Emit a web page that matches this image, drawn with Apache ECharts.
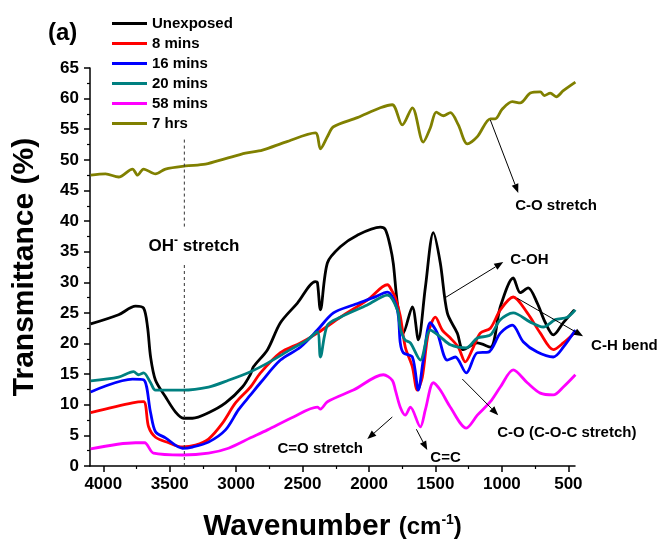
<!DOCTYPE html>
<html>
<head>
<meta charset="utf-8">
<script src="https://cdn.jsdelivr.net/npm/echarts@6/dist/echarts.min.js"></script>
<style>
html, body { margin: 0; padding: 0; background: #fff; }
#chart { width: 661px; height: 540px; }
</style>
</head>
<body>
<div id="chart"></div>
<script>
// FTIR spectra, [wavenumber (cm-1), transmittance (%)]
const unexposed = [[4095,23.2],[3885,24.7],[3757,26.1],[3697,25.8],[3667,22.7],[3644,17.8],[3607,14.0],[3532,11.3],[3456,8.8],[3396,7.8],[3329,7.8],[3208,8.7],[3080,10.3],[2953,12.9],[2892,15.0],[2870,16.2],[2764,19.0],[2667,23.4],[2539,26.6],[2404,30.1],[2389,30.0],[2366,25.5],[2313,33.2],[2216,35.8],[2088,37.7],[1915,39.0],[1877,38.6],[1840,35.8],[1817,33.0],[1787,26.6],[1742,21.7],[1674,26.0],[1629,20.6],[1576,29.2],[1516,38.1],[1464,33.2],[1411,25.0],[1336,21.7],[1291,19.0],[1185,20.1],[1087,19.4],[1012,26.0],[915,30.7],[862,28.3],[802,29.1],[734,26.6],[673,23.4],[613,21.4],[538,23.4],[455,25.5]]
const mins8 = [[4095,8.7],[3780,10.3],[3697,10.5],[3659,6.4],[3607,4.7],[3509,3.8],[3404,3.1],[3306,3.4],[3208,4.4],[3103,7.0],[3005,10.3],[2892,12.9],[2817,15.2],[2667,18.5],[2517,20.1],[2389,21.7],[2216,24.3],[2013,27.1],[1862,29.6],[1825,28.5],[1802,27.5],[1765,24.5],[1727,19.4],[1674,16.2],[1637,12.4],[1599,14.5],[1554,21.7],[1501,24.3],[1449,22.2],[1388,20.9],[1328,19.4],[1275,17.0],[1223,19.0],[1163,21.7],[1087,22.5],[1012,25.5],[915,27.6],[809,25.0],[711,21.7],[613,19.0],[538,20.1],[447,21.9]]
const mins16 = [[4095,12.1],[3780,14.2],[3697,14.1],[3644,8.7],[3607,5.6],[3532,4.6],[3404,2.9],[3329,3.1],[3208,3.9],[3080,5.9],[2982,9.2],[2892,11.6],[2817,13.6],[2667,17.3],[2517,19.4],[2389,22.2],[2268,25.0],[2118,26.3],[1968,27.5],[1862,28.4],[1787,25.5],[1765,20.1],[1742,18.5],[1674,17.8],[1629,12.4],[1592,17.3],[1539,23.4],[1486,21.7],[1411,17.3],[1351,17.8],[1268,15.2],[1185,18.5],[1102,18.6],[1012,21.7],[922,23.0],[840,20.3],[734,18.6],[613,17.8],[538,19.4],[447,22.2]]
const mins20 = [[4095,13.9],[3885,14.5],[3772,15.4],[3735,14.9],[3697,15.2],[3644,13.6],[3607,12.4],[3404,12.4],[3208,12.9],[3058,14.0],[2892,15.4],[2764,16.8],[2592,19.0],[2464,20.6],[2389,21.9],[2366,17.8],[2313,23.0],[2216,24.3],[2013,26.3],[1862,27.9],[1787,25.5],[1765,22.5],[1730,20.6],[1689,20.1],[1614,17.3],[1539,22.2],[1464,21.1],[1388,19.8],[1268,19.3],[1185,20.9],[1087,21.4],[1012,23.9],[915,25.0],[786,23.5],[689,22.7],[598,23.9],[508,24.3],[447,25.5]]
const mins58 = [[4095,2.8],[3757,3.8],[3689,3.8],[3622,2.1],[3404,1.8],[3208,2.1],[3058,2.9],[2892,4.6],[2764,5.9],[2569,8.0],[2389,9.6],[2366,9.3],[2313,10.5],[2118,12.4],[1892,14.9],[1825,14.0],[1802,12.4],[1765,9.6],[1727,8.3],[1689,9.6],[1614,6.4],[1576,9.2],[1516,13.6],[1464,12.4],[1388,9.6],[1268,6.2],[1185,8.3],[1087,10.5],[1012,12.9],[915,15.7],[809,13.6],[711,11.9],[613,11.6],[538,12.9],[447,14.9]]
const hrs7 = [[4095,47.5],[3983,47.7],[3885,47.2],[3780,48.5],[3742,47.5],[3697,48.5],[3607,47.7],[3532,48.5],[3381,49.0],[3231,49.3],[3080,50.2],[2930,51.1],[2802,51.6],[2629,52.9],[2404,54.4],[2366,51.8],[2313,53.8],[2268,55.4],[2088,56.9],[1915,58.5],[1825,59.0],[1750,55.7],[1674,58.5],[1592,52.9],[1539,55.2],[1494,57.8],[1441,57.2],[1388,57.7],[1328,55.7],[1260,52.6],[1185,53.8],[1087,56.7],[1050,56.7],[997,58.3],[922,59.5],[862,59.3],[786,60.9],[711,61.1],[681,60.5],[636,60.9],[591,60.3],[538,61.3],[447,62.7]]

const names = ['Unexposed', '8 mins', '16 mins', '20 mins', '58 mins', '7 hrs']
const colors = ['#000000', '#ff0000', '#0000ff', '#008080', '#ff00ff', '#808000']
const spectra = [unexposed, mins8, mins16, mins20, mins58, hrs7]

const xMajor = [500, 1000, 1500, 2000, 2500, 3000, 3500, 4000]
const xMinor = [750, 1250, 1750, 2250, 2750, 3250, 3750]

// annotations: arrows [from, to] and labels in data coordinates
const arrows = [
  [[1087, 56.5], [877, 44.6]],   // C-O stretch
  [[1426, 27.5], [990, 33.3]],   // C-OH
  [[885, 27.4], [389, 21.2]],    // C-H bend
  [[1298, 14.2], [1028, 8.3]],   // C-O (C-O-C stretch)
  [[1825, 8.0], [2013, 4.4]],    // C=O stretch
  [[1644, 6.0], [1562, 2.6]]     // C=C
]
const labels = [
  ['C-O stretch', [900, 42.5]],
  ['C-OH', [938, 33.7]],
  ['C-H bend', [329, 19.6]],
  ['C-O (C-O-C stretch)', [1035, 5.4]],
  ['C=O stretch', [2689, 2.8]],
  ['C=C', [1539, 1.3]]
]
const ohLine = 3390

const FONT = '"Liberation Sans", Arial, sans-serif'

const chart = echarts.init(document.getElementById('chart'))

chart.setOption({
  animation: false,
  textStyle: { fontFamily: FONT, color: '#000' },
  grid: { left: 90, right: 86, top: 68, bottom: 74, outerBoundsMode: 'none' },
  legend: {
    data: names,
    orient: 'vertical',
    left: 112,
    top: 16,
    icon: 'rect',
    itemWidth: 35,
    itemHeight: 3,
    itemGap: 5,
    padding: 0,
    textStyle: { fontSize: 15, fontWeight: 'bold', color: '#000', fontFamily: FONT }
  },
  xAxis: [
    {
      type: 'value',
      inverse: true,
      min: 450,
      max: 4100,
      name: 'Wavenumber {b|(cm}{s|-1}{b|)}',
      nameLocation: 'middle',
      nameGap: 46,
      nameTextStyle: {
        fontSize: 30,
        fontWeight: 'bold',
        color: '#000',
        fontFamily: FONT,
        rich: {
          b: { fontSize: 24, fontWeight: 'bold', fontFamily: FONT, color: '#000' },
          s: { fontSize: 14, fontWeight: 'bold', fontFamily: FONT, color: '#000', padding: [0, 0, 14, 0] }
        }
      },
      axisLine: { lineStyle: { color: '#000', width: 1.5 } },
      axisTick: { length: 6, lineStyle: { width: 1.5 }, customValues: xMajor },
      axisLabel: {
        customValues: xMajor,
        formatter: (v) => String(v),
        fontSize: 17, fontWeight: 'bold', color: '#000', margin: 10
      },
      splitLine: { show: false }
    },
    {
      type: 'value',
      inverse: true,
      min: 450,
      max: 4100,
      position: 'bottom',
      axisLine: { show: false },
      axisTick: { length: 3, lineStyle: { width: 1.2, color: '#000' }, customValues: xMinor },
      axisLabel: { show: false },
      splitLine: { show: false }
    }
  ],
  yAxis: {
    type: 'value',
    min: 0,
    max: 65,
    interval: 5,
    name: 'Transmittance (%)',
    nameLocation: 'middle',
    nameGap: 50,
    nameTextStyle: { fontSize: 30, fontWeight: 'bold', color: '#000', fontFamily: FONT },
    axisLine: { show: true, lineStyle: { color: '#000', width: 1.5 } },
    axisTick: { show: true, length: 6, lineStyle: { width: 1.5 } },
    minorTick: { show: true, splitNumber: 2, length: 3, lineStyle: { color: '#000', width: 1.2 } },
    axisLabel: { fontSize: 17, fontWeight: 'bold', color: '#000', margin: 11 },
    splitLine: { show: false }
  },
  series: spectra.map((d, i) => ({
    name: names[i],
    type: 'line',
    data: d,
    smooth: 0.3,
    symbol: 'none',
    color: colors[i],
    lineStyle: { width: 2.8, color: colors[i] }
  }))
})

function px(p) {
  return chart.convertToPixel({ seriesIndex: 0 }, p)
}

const graphics = []

// dashed guide at the OH stretch position, broken around its label
;[[0, 33.0], [39.1, 53.8]].forEach(([a, b]) => {
  const p0 = px([ohLine, a])
  const p1 = px([ohLine, b])
  graphics.push({
    type: 'line', z: 100, silent: true,
    shape: { x1: p0[0], y1: p0[1], x2: p1[0], y2: p1[1] },
    style: { stroke: '#333', lineWidth: 1, lineDash: [3, 3] }
  })
})

arrows.forEach(([from, to]) => {
  const a = px(from)
  const b = px(to)
  const ang = Math.atan2(b[1] - a[1], b[0] - a[0])
  const len = 9
  const half = 3.5
  const bx = b[0] - len * Math.cos(ang)
  const by = b[1] - len * Math.sin(ang)
  graphics.push({
    type: 'line', z: 100, silent: true,
    shape: { x1: a[0], y1: a[1], x2: bx, y2: by },
    style: { stroke: '#000', lineWidth: 1 }
  })
  graphics.push({
    type: 'polygon', z: 100, silent: true,
    shape: {
      points: [
        b,
        [bx + half * Math.sin(ang), by - half * Math.cos(ang)],
        [bx - half * Math.sin(ang), by + half * Math.cos(ang)]
      ]
    },
    style: { fill: '#000' }
  })
})

labels.forEach(([text, pos]) => {
  const p = px(pos)
  graphics.push({
    type: 'text', z: 100, silent: true, x: p[0], y: p[1],
    style: { text, fontSize: 15, fontWeight: 'bold', fontFamily: FONT, fill: '#000', align: 'left', verticalAlign: 'middle' }
  })
})

const ohPos = px([3659, 35.9])
graphics.push({
  type: 'text', z: 100, silent: true, x: ohPos[0], y: ohPos[1],
  style: {
    text: '{a|OH}{s|-}{a| stretch}',
    align: 'left', verticalAlign: 'middle',
    rich: {
      a: { fontSize: 17, fontWeight: 'bold', fontFamily: FONT, fill: '#000' },
      s: { fontSize: 12, fontWeight: 'bold', fontFamily: FONT, fill: '#000', padding: [0, 0, 10, 0] }
    }
  }
})

graphics.push({
  type: 'text', z: 100, silent: true, x: 48, y: 33,
  style: { text: '(a)', fontSize: 24, fontWeight: 'bold', fontFamily: FONT, fill: '#000', align: 'left', verticalAlign: 'middle' }
})

chart.setOption({ graphic: graphics })
</script>
</body>
</html>
